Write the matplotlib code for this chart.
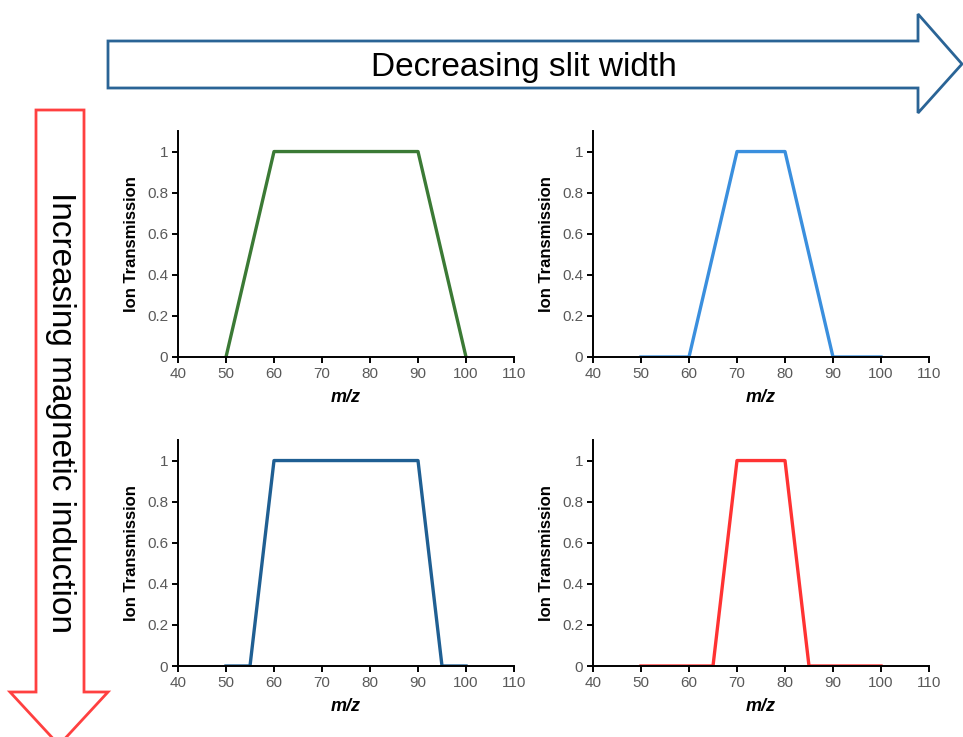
import numpy as np
import matplotlib
matplotlib.use('Agg')
import matplotlib.pyplot as plt
from matplotlib.patches import Polygon
from matplotlib.ticker import FuncFormatter

plt.rcParams['font.family'] = ['Liberation Sans', 'DejaVu Sans']

# m/z breakpoints and transmission for each panel
mz_tl = [50, 60, 90, 100]
tr_tl = [0, 1, 1, 0]
mz_tr = [50, 60, 70, 80, 90, 100]
tr_tr = [0, 0, 1, 1, 0, 0]
mz_bl = [50, 55, 60, 90, 95, 100]
tr_bl = [0, 0, 1, 1, 0, 0]
mz_br = [50, 65, 70, 80, 85, 100]
tr_br = [0, 0, 1, 1, 0, 0]

panels = [
    (mz_tl, tr_tl, '#3b7a35'),
    (mz_tr, tr_tr, '#3a8fde'),
    (mz_bl, tr_bl, '#1f5f93'),
    (mz_br, tr_br, '#ff3333'),
]

W, H = 963, 737
fig = plt.figure(figsize=(W / 100, H / 100), dpi=100)

# decoration layer in pixel coordinates
bg = fig.add_axes([0, 0, 1, 1])
bg.set_xlim(0, W)
bg.set_ylim(H, 0)
bg.axis('off')

blue_arrow = [(108, 41), (918, 41), (918, 14), (962, 64), (918, 113),
              (918, 88), (108, 88)]
bg.add_patch(Polygon(blue_arrow, closed=True, fc='white', ec='#2a6496', lw=2))
bg.text(524, 67, 'Decreasing slit width', fontsize=24, ha='center',
        va='center', color='black')

red_arrow = [(36, 110), (84, 110), (84, 692), (108, 692), (59, 745),
             (10, 692), (36, 692)]
bg.add_patch(Polygon(red_arrow, closed=True, fc='white', ec='#ff4040', lw=2,
                     clip_on=False))
bg.text(60, 412, 'Increasing magnetic induction', fontsize=24, rotation=270,
        ha='center', va='center', color='black')

lefts = [178, 593]
bottoms = [357, 666]
aw, ah = 336, 226

for i, (mz, tr, col) in enumerate(panels):
    r, c = divmod(i, 2)
    x0 = lefts[c] / W
    y0 = 1 - bottoms[r] / H
    ax = fig.add_axes([x0, y0, aw / W, ah / H])
    ax.plot(mz, tr, color=col, lw=2.4, solid_joinstyle='round', zorder=2)
    ax.set_xlim(40, 110)
    ax.set_ylim(0, 1.1)
    ax.set_xticks(np.arange(40, 111, 10))
    ax.set_yticks(np.arange(0, 1.01, 0.2))
    ax.yaxis.set_major_formatter(FuncFormatter(lambda v, p: '%g' % round(v, 1)))
    for s in ['top', 'right']:
        ax.spines[s].set_visible(False)
    for s in ['left', 'bottom']:
        ax.spines[s].set_linewidth(1.4)
        ax.spines[s].set_zorder(3)
    ax.tick_params(direction='out', length=4, width=1.4, labelsize=11,
                   labelcolor='#595959', pad=3)
    ax.set_ylabel('Ion Transmission', fontsize=12, fontweight='bold', labelpad=6)
    ax.set_xlabel('m/z', fontsize=13, fontweight='bold', style='italic',
                  labelpad=6)
    ax.patch.set_alpha(0)

fig.savefig('out.png', dpi=100)
